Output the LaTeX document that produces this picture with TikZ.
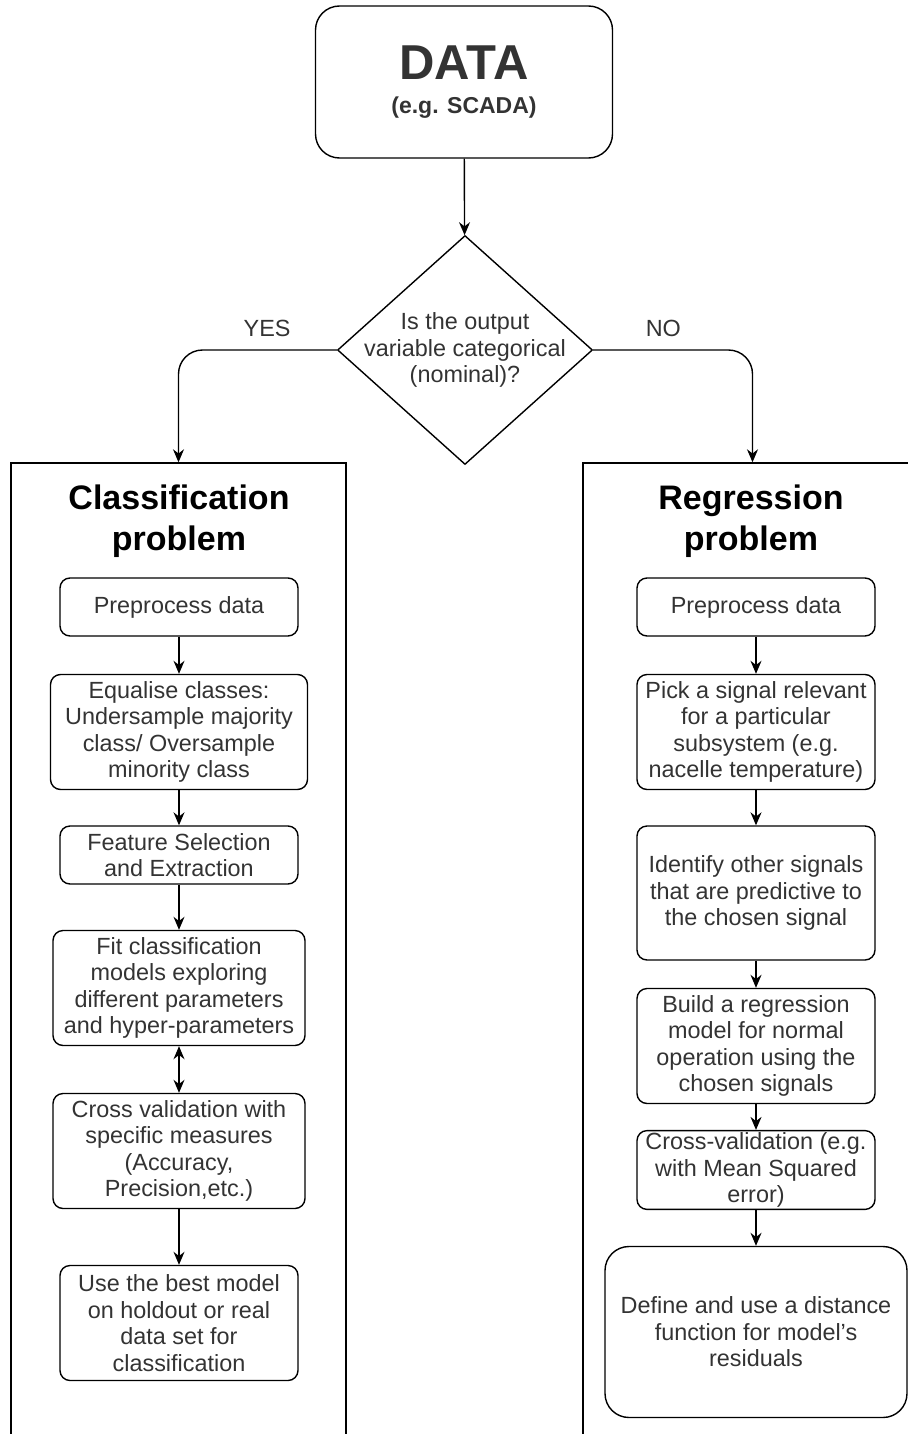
\documentclass[tikz,border=0pt]{standalone}
\usepackage{fontspec}
\setmainfont{Liberation Sans}
\usetikzlibrary{shapes.geometric,arrows.meta}

\begin{document}
\begin{tikzpicture}
[x=0.5pt, y=-0.5pt, line width=0.7pt,
 box/.style={draw, rounded corners=5pt, align=center, inner sep=1pt, text=black!80, font=\fontsize{11.7}{13.25}\selectfont},
 small/.style={box, minimum width=119pt, minimum height=29pt},
 big/.style={box, minimum width=126pt, minimum height=57.5pt},
 frame/.style={draw, rectangle, minimum height=503.5pt},
 title/.style={align=center, font=\bfseries\fontsize{17}{20.5}\selectfont},
 decision/.style={draw, diamond, minimum width=127.5pt, minimum height=114.5pt, inner sep=0pt},
 arr/.style={-{Stealth[length=6.5pt,width=5.5pt]}},
 lab/.style={text=black!80, font=\fontsize{11.7}{13.25}\selectfont}]

\path[use as bounding box, clip] (0,0) rectangle (908,1434);

% top
\node[box, rounded corners=12pt, minimum width=148.5pt, minimum height=76pt] (data) at (464,82) {\fontsize{24.5}{26}\bfseries DATA\\[3.5pt] \fontsize{11.5}{13}\bfseries (e.g. SCADA)};
\node[decision, label={[lab, align=center]center:Is the output\\variable categorical\\(nominal)?}] (dec) at (465,350) {};

% the two branches
\node[frame, minimum width=167.5pt] (cls) at (178.5,966.5) {};
\node[frame, minimum width=169.5pt] (reg) at (752.5,966.5) {};
\node[title] (clst) at (179,521) {Classification\\problem};
\node[title] (regt) at (751,521) {Regression\\problem};

% classification steps
\node[small] (c1) at (179,607) {Preprocess data};
\node[box, minimum width=128.5pt, minimum height=57.5pt] (c2) at (179,732) {Equalise classes:\\Undersample majority\\class/ Oversample\\minority class};
\node[small] (c3) at (179,855) {Feature Selection\\and Extraction};
\node[big] (c4) at (179,988) {Fit classification\\models exploring\\different parameters\\and hyper-parameters};
\node[big] (c5) at (179,1151) {Cross validation with\\specific measures\\(Accuracy,\\Precision,etc.)};
\node[small, minimum height=57.5pt] (c6) at (179,1323) {Use the best model\\on holdout or real\\data set for\\classification};

% regression steps
\node[small] (r1) at (756,607) {Preprocess data};
\node[small, minimum height=57.5pt] (r2) at (756,732) {Pick a signal relevant\\for a particular\\subsystem (e.g.\\nacelle temperature)};
\node[small, minimum height=67pt] (r3) at (756,893) {Identify other signals\\that are predictive to\\the chosen signal};
\node[small, minimum height=57.5pt] (r4) at (756,1046) {Build a regression\\model for normal\\operation using the\\chosen signals};
\node[small, minimum height=38pt] (r5) at (756,1170) {Cross-validation (e.g.\\with Mean Squared\\error)};
\node[box, rounded corners=12pt, minimum width=151pt, minimum height=85.5pt] (r6) at (756,1332) {Define and use a distance\\function for model's\\residuals};

\draw[arr] (data) -- (dec);
\draw[arr, rounded corners=12pt] (dec.west) -| node[lab, pos=0.22, above=3pt] {YES} (cls.north);
\draw[arr, rounded corners=12pt] (dec.east) -| node[lab, pos=0.22, above=3pt] {NO} (reg.north);

\draw[arr] (c1) -- (c2);
\draw[arr] (c2) -- (c3);
\draw[arr] (c3) -- (c4);
\draw[{Stealth[length=6.5pt,width=5.5pt]}-{Stealth[length=6.5pt,width=5.5pt]}] (c4) -- (c5);
\draw[arr] (c5) -- (c6);

\draw[arr] (r1) -- (r2);
\draw[arr] (r2) -- (r3);
\draw[arr] (r3) -- (r4);
\draw[arr] (r4) -- (r5);
\draw[arr] (r5) -- (r6);
\end{tikzpicture}
\end{document}
